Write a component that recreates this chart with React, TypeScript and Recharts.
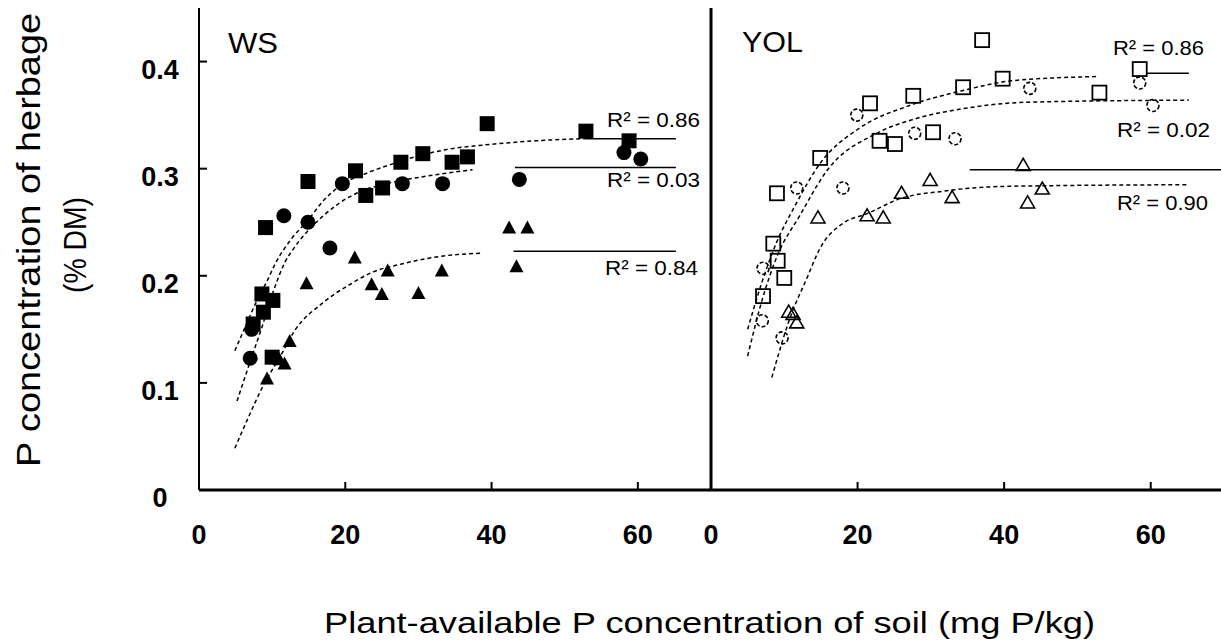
import React from 'react';
import { ComposedChart, Line, Scatter, XAxis, YAxis } from 'recharts';

type Pt = { x: number; y: number };

const xTicks = [0, 20, 40, 60];
const yTicks = [0, 0.1, 0.2, 0.3, 0.4];
const yMarks = [0.1, 0.2, 0.3, 0.4];

// WS (filled markers)
const wsSquares: Pt[] = [
    { x: 7.4, y: 0.155 }, { x: 8.8, y: 0.166 }, { x: 8.6, y: 0.183 }, { x: 10.1, y: 0.177 },
    { x: 10.0, y: 0.124 }, { x: 9.1, y: 0.245 }, { x: 14.9, y: 0.288 }, { x: 21.4, y: 0.298 },
    { x: 22.8, y: 0.275 }, { x: 25.1, y: 0.282 }, { x: 27.6, y: 0.306 }, { x: 30.6, y: 0.314 },
    { x: 34.6, y: 0.306 }, { x: 36.7, y: 0.311 }, { x: 39.4, y: 0.342 }, { x: 52.9, y: 0.335 },
    { x: 58.8, y: 0.326 },
];
const wsCircles: Pt[] = [
    { x: 7.0, y: 0.123 }, { x: 7.2, y: 0.15 }, { x: 11.6, y: 0.256 }, { x: 14.9, y: 0.25 },
    { x: 17.9, y: 0.226 }, { x: 19.6, y: 0.286 }, { x: 27.8, y: 0.286 }, { x: 33.3, y: 0.286 },
    { x: 43.8, y: 0.29 }, { x: 58.1, y: 0.315 }, { x: 60.4, y: 0.309 },
];
const wsTriangles: Pt[] = [
    { x: 9.3, y: 0.104 }, { x: 11.0, y: 0.122 }, { x: 11.7, y: 0.118 }, { x: 12.4, y: 0.139 },
    { x: 14.7, y: 0.193 }, { x: 21.3, y: 0.217 }, { x: 23.6, y: 0.192 }, { x: 25.0, y: 0.183 },
    { x: 25.8, y: 0.205 }, { x: 30.0, y: 0.184 }, { x: 33.2, y: 0.205 }, { x: 42.4, y: 0.245 },
    { x: 43.4, y: 0.209 }, { x: 44.9, y: 0.245 },
];
const wsSquareFit: Pt[] = [
    { x: 4.9, y: 0.13 }, { x: 6.3, y: 0.152 }, { x: 8, y: 0.178 }, { x: 9.3, y: 0.195 },
    { x: 10.4, y: 0.211 }, { x: 12.7, y: 0.235 }, { x: 14.9, y: 0.252 }, { x: 17, y: 0.27 },
    { x: 19.5, y: 0.285 }, { x: 23, y: 0.296 }, { x: 26.7, y: 0.305 }, { x: 30, y: 0.312 },
    { x: 34, y: 0.318 }, { x: 40.4, y: 0.323 }, { x: 46, y: 0.326 }, { x: 52.7, y: 0.328 },
];
const wsSquareFlat: Pt[] = [{ x: 52.7, y: 0.328 }, { x: 65.2, y: 0.328 }];
const wsCircleFit: Pt[] = [
    { x: 5.2, y: 0.083 }, { x: 7, y: 0.12 }, { x: 8.6, y: 0.152 }, { x: 10.4, y: 0.19 },
    { x: 11.7, y: 0.212 }, { x: 13, y: 0.226 }, { x: 14.9, y: 0.242 }, { x: 17, y: 0.256 },
    { x: 19, y: 0.267 }, { x: 22.2, y: 0.279 }, { x: 25, y: 0.285 }, { x: 28.5, y: 0.29 },
    { x: 33, y: 0.295 }, { x: 37.4, y: 0.299 },
];
const wsCircleFlat: Pt[] = [{ x: 43.2, y: 0.301 }, { x: 65.2, y: 0.301 }];
const wsTriangleFit: Pt[] = [
    { x: 4.9, y: 0.039 }, { x: 6.7, y: 0.067 }, { x: 8.6, y: 0.095 }, { x: 11.3, y: 0.127 },
    { x: 13.1, y: 0.149 }, { x: 16.8, y: 0.174 }, { x: 20.9, y: 0.193 }, { x: 23.6, y: 0.203 },
    { x: 27.7, y: 0.211 }, { x: 34, y: 0.219 }, { x: 38.6, y: 0.221 },
];
const wsTriangleFlat: Pt[] = [{ x: 43, y: 0.223 }, { x: 65.2, y: 0.223 }];

// YOL (open markers)
const yolSquares: Pt[] = [
    { x: 7.1, y: 0.181 }, { x: 8.5, y: 0.23 }, { x: 9.1, y: 0.214 }, { x: 10.0, y: 0.198 },
    { x: 9.0, y: 0.277 }, { x: 14.9, y: 0.31 }, { x: 21.7, y: 0.361 }, { x: 23.0, y: 0.326 },
    { x: 25.1, y: 0.323 }, { x: 27.6, y: 0.368 }, { x: 30.3, y: 0.334 }, { x: 34.4, y: 0.376 },
    { x: 37.0, y: 0.42 }, { x: 39.8, y: 0.384 }, { x: 53.0, y: 0.371 }, { x: 58.5, y: 0.393 },
];
const yolCircles: Pt[] = [
    { x: 7.0, y: 0.158 }, { x: 7.1, y: 0.207 }, { x: 9.7, y: 0.142 }, { x: 11.7, y: 0.282 },
    { x: 18.0, y: 0.282 }, { x: 19.9, y: 0.35 }, { x: 27.8, y: 0.333 }, { x: 33.3, y: 0.328 },
    { x: 43.5, y: 0.375 }, { x: 58.5, y: 0.38 }, { x: 60.3, y: 0.359 },
];
const yolTriangles: Pt[] = [
    { x: 10.6, y: 0.166 }, { x: 11.2, y: 0.164 }, { x: 11.7, y: 0.156 }, { x: 14.6, y: 0.254 },
    { x: 21.3, y: 0.256 }, { x: 23.5, y: 0.254 }, { x: 26.0, y: 0.277 }, { x: 29.9, y: 0.289 },
    { x: 32.9, y: 0.273 }, { x: 42.6, y: 0.303 }, { x: 43.2, y: 0.268 }, { x: 45.2, y: 0.281 },
];
const yolSquareFit: Pt[] = [
    { x: 5, y: 0.15 }, { x: 7, y: 0.195 }, { x: 9, y: 0.232 }, { x: 11.2, y: 0.262 },
    { x: 14.9, y: 0.305 }, { x: 20.3, y: 0.338 }, { x: 27.1, y: 0.359 }, { x: 34.4, y: 0.373 },
    { x: 41, y: 0.382 }, { x: 52.7, y: 0.386 },
];
const yolSquareFlat: Pt[] = [{ x: 59.5, y: 0.389 }, { x: 65.2, y: 0.389 }];
const yolCircleFit: Pt[] = [
    { x: 5, y: 0.125 }, { x: 7, y: 0.178 }, { x: 9, y: 0.218 }, { x: 12.1, y: 0.256 },
    { x: 15.8, y: 0.298 }, { x: 22.6, y: 0.333 }, { x: 28.1, y: 0.347 }, { x: 34.4, y: 0.356 },
    { x: 43, y: 0.362 }, { x: 65.2, y: 0.364 },
];
const yolTriangleFit: Pt[] = [
    { x: 8.3, y: 0.105 }, { x: 10.8, y: 0.161 }, { x: 13.1, y: 0.198 }, { x: 14.9, y: 0.226 },
    { x: 18, y: 0.249 }, { x: 21.3, y: 0.258 }, { x: 25.8, y: 0.272 }, { x: 31.7, y: 0.279 },
    { x: 38, y: 0.283 }, { x: 45, y: 0.284 }, { x: 65.2, y: 0.285 },
];
const yolTriangleFlat: Pt[] = [{ x: 35.3, y: 0.299 }, { x: 70, y: 0.299 }];

const FONT = "'Liberation Sans', Arial, sans-serif";

const filledSquare = (p: any) => <rect x={p.cx - 7.5} y={p.cy - 7.5} width={15} height={15} fill="#000" />;
const filledCircle = (p: any) => <circle cx={p.cx} cy={p.cy} r={7.5} fill="#000" />;
const filledTriangle = (p: any) => (
    <path d={`M${p.cx},${p.cy - 7} L${p.cx + 7},${p.cy + 6} L${p.cx - 7},${p.cy + 6} Z`} fill="#000" />
);
const openSquare = (p: any) => (
    <rect x={p.cx - 7} y={p.cy - 7} width={14} height={14} fill="none" stroke="#000" strokeWidth={1.8} />
);
const openCircle = (p: any) => (
    <circle cx={p.cx} cy={p.cy} r={6} fill="none" stroke="#000" strokeWidth={1.6} strokeDasharray="4 2" />
);
const openTriangle = (p: any) => (
    <path
        d={`M${p.cx},${p.cy - 7} L${p.cx + 7},${p.cy + 5} L${p.cx - 7},${p.cy + 5} Z`}
        fill="none"
        stroke="#000"
        strokeWidth={1.6}
    />
);

const XTick = (p: any) => (
    <text x={p.x} y={p.y + 52} textAnchor="middle" fontSize={27} fontWeight="bold" fontFamily={FONT} fill="#000">
        {p.payload.value}
    </text>
);
const YTick = (p: any) => (
    <text x={p.x - 3} y={p.y + 17} textAnchor="middle" fontSize={27} fontWeight="bold" fontFamily={FONT} fill="#000">
        {p.payload.value}
    </text>
);

function fitLine(data: Pt[], dashed: boolean) {
    return (
        <Line
            data={data}
            dataKey="y"
            type="monotone"
            dot={false}
            activeDot={false}
            stroke="#000"
            strokeWidth={1.5}
            strokeDasharray={dashed ? '4 3' : undefined}
            isAnimationActive={false}
            legendType="none"
        />
    );
}

function Panel({
    width,
    yWidth,
    showYLabels,
    squares,
    circles,
    triangles,
    shapes,
    lines,
}: {
    width: number;
    yWidth: number;
    showYLabels: boolean;
    squares: Pt[];
    circles: Pt[];
    triangles: Pt[];
    shapes: any[];
    lines: React.ReactNode;
}) {
    return (
        <ComposedChart width={width} height={643} margin={{ top: 8, right: showYLabels ? 1 : 0, bottom: 0, left: 0 }}>
            <XAxis
                dataKey="x"
                type="number"
                domain={[0, 70]}
                ticks={xTicks}
                interval={0}
                height={153}
                tickSize={-8}
                tickMargin={10}
                axisLine={{ stroke: '#000', strokeWidth: 3 }}
                tickLine={{ stroke: '#000', strokeWidth: 2 }}
                tick={XTick}
                allowDataOverflow
            />
            <XAxis
                xAxisId="top"
                orientation="top"
                dataKey="x"
                type="number"
                domain={[0, 70]}
                height={0}
                tick={false}
                tickLine={false}
                axisLine={{ stroke: '#000', strokeWidth: 2 }}
            />
            <YAxis
                dataKey="y"
                type="number"
                domain={[0, 0.45]}
                ticks={showYLabels ? yTicks : yMarks}
                interval={0}
                width={yWidth}
                tickSize={-8}
                tickMargin={44}
                axisLine={{ stroke: '#000', strokeWidth: showYLabels ? 2 : 3 }}
                tickLine={{ stroke: '#000', strokeWidth: 2 }}
                tick={showYLabels ? YTick : false}
                allowDataOverflow
            />
            {lines}
            <Scatter data={squares} dataKey="y" shape={shapes[0]} isAnimationActive={false} />
            <Scatter data={circles} dataKey="y" shape={shapes[1]} isAnimationActive={false} />
            <Scatter data={triangles} dataKey="y" shape={shapes[2]} isAnimationActive={false} />
        </ComposedChart>
    );
}

export default function App() {
    const t = { fontFamily: FONT, fill: '#000' };
    return (
        <div
            style={{
                position: 'fixed',
                left: 0,
                top: 0,
                width: 1221,
                height: 643,
                overflow: 'hidden',
                background: '#fff',
            }}
        >
            <div style={{ position: 'absolute', left: 0, top: 0 }}>
                <Panel
                    width={712}
                    yWidth={199}
                    showYLabels
                    squares={wsSquares}
                    circles={wsCircles}
                    triangles={wsTriangles}
                    shapes={[filledSquare, filledCircle, filledTriangle]}
                    lines={[
                        fitLine(wsSquareFit, true),
                        fitLine(wsSquareFlat, false),
                        fitLine(wsCircleFit, true),
                        fitLine(wsCircleFlat, false),
                        fitLine(wsTriangleFit, true),
                        fitLine(wsTriangleFlat, false),
                    ]}
                />
            </div>
            <div style={{ position: 'absolute', left: 680, top: 0 }}>
                <Panel
                    width={544}
                    yWidth={31}
                    showYLabels={false}
                    squares={yolSquares}
                    circles={yolCircles}
                    triangles={yolTriangles}
                    shapes={[openSquare, openCircle, openTriangle]}
                    lines={[
                        fitLine(yolSquareFit, true),
                        fitLine(yolSquareFlat, false),
                        fitLine(yolCircleFit, true),
                        fitLine(yolTriangleFit, true),
                        fitLine(yolTriangleFlat, false),
                    ]}
                />
            </div>
            <svg
                width={1221}
                height={643}
                style={{ position: 'absolute', left: 0, top: 0, pointerEvents: 'none' }}
            >
                <text {...t} transform="translate(40,240) rotate(-90)" textAnchor="middle" fontSize={34} textLength={454} lengthAdjust="spacingAndGlyphs">
                    P concentration of herbage
                </text>
                <text {...t} transform="translate(86,245) rotate(-90)" textAnchor="middle" fontSize={32} textLength={96} lengthAdjust="spacingAndGlyphs">
                    (% DM)
                </text>
                <text {...t} x={324} y={633} fontSize={30} textLength={771} lengthAdjust="spacingAndGlyphs">
                    Plant-available P concentration of soil (mg P/kg)
                </text>
                <text {...t} x={228} y={53} fontSize={29} textLength={50} lengthAdjust="spacingAndGlyphs">WS</text>
                <text {...t} x={742} y={52} fontSize={29} textLength={61} lengthAdjust="spacingAndGlyphs">YOL</text>
                <text {...t} x={607} y={127} fontSize={20} textLength={93} lengthAdjust="spacingAndGlyphs">R² = 0.86</text>
                <text {...t} x={607} y={187} fontSize={20} textLength={93} lengthAdjust="spacingAndGlyphs">R² = 0.03</text>
                <text {...t} x={605} y={275} fontSize={20} textLength={93} lengthAdjust="spacingAndGlyphs">R² = 0.84</text>
                <text {...t} x={1113} y={55} fontSize={20} textLength={91} lengthAdjust="spacingAndGlyphs">R² = 0.86</text>
                <text {...t} x={1117} y={137} fontSize={20} textLength={93} lengthAdjust="spacingAndGlyphs">R² = 0.02</text>
                <text {...t} x={1117} y={210} fontSize={20} textLength={91} lengthAdjust="spacingAndGlyphs">R² = 0.90</text>
            </svg>
        </div>
    );
}
